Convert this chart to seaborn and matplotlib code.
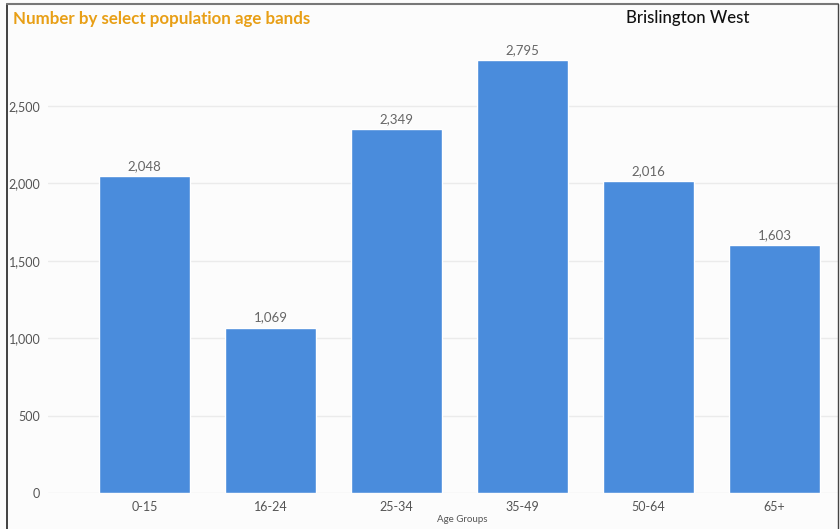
import matplotlib
matplotlib.use("Agg")
import matplotlib.pyplot as plt
from matplotlib.lines import Line2D
import seaborn as sns
import pandas as pd

age_groups = ["0-15", "16-24", "25-34", "35-49", "50-64", "65+"]
population = [2048, 1069, 2349, 2795, 2016, 1603]
y_ticks = [0, 500, 1000, 1500, 2000, 2500]

sns.set_theme(style="white")
plt.rcParams["font.family"] = ["Lato", "DejaVu Sans"]

bg = "#FCFCFC"
bar_color = "#4A8CDC"
text_grey = "#555555"

df = pd.DataFrame({"Age Groups": age_groups, "Population": population})

fig = plt.figure(figsize=(8.4, 5.29), dpi=100, facecolor=bg)
ax = fig.add_axes([48 / 840, 1 - 493 / 529, (838 - 48) / 840, 464.4 / 529])
ax.set_facecolor(bg)

sns.barplot(data=df, x="Age Groups", y="Population", color=bar_color,
            saturation=1, width=0.72, ax=ax, zorder=3)

ax.set_ylim(0, 3000)
ax.set_xlim(-0.766, 5.504)
ax.set_yticks(y_ticks)
ax.set_yticklabels([f"{v:,}" for v in y_ticks])
ax.yaxis.grid(True, color="#EBEBEB", linewidth=1, zorder=0)
ax.xaxis.grid(False)
for s in ax.spines.values():
    s.set_visible(False)
ax.tick_params(axis="both", length=0, labelsize=9, labelcolor=text_grey)
ax.tick_params(axis="y", pad=5.5)
ax.tick_params(axis="x", pad=6)
ax.set_xlabel("")
ax.set_ylabel("")

for cont in ax.containers:
    ax.bar_label(cont, labels=[f"{v:,}" for v in population], padding=3,
                 fontsize=9.5, color="#666666")

fig.text(462 / 840, 1 - 520 / 529, "Age Groups", ha="center", va="center",
         fontsize=7, color=text_grey)
fig.text(13 / 840, 1 - 19 / 529, "Number by select population age bands",
         ha="left", va="center", fontsize=12.2, fontweight="bold", color="#E89F16")
fig.text(688 / 840, 1 - 18 / 529, "Brislington West", ha="center", va="center",
         fontsize=12.1, fontweight="medium", color="#111111")

# outer frame
fig.add_artist(Line2D([7 / 840, 7 / 840], [0, 1 - 4 / 529], transform=fig.transFigure,
                      color="#222222", linewidth=1.2))
fig.add_artist(Line2D([7 / 840, 838 / 840], [1 - 4 / 529, 1 - 4 / 529],
                      transform=fig.transFigure, color="#777777", linewidth=1.5))
fig.add_artist(Line2D([838 / 840, 838 / 840], [0, 1 - 4 / 529], transform=fig.transFigure,
                      color="#444444", linewidth=1.0))

fig.savefig("out.png", dpi=100, facecolor=bg)
